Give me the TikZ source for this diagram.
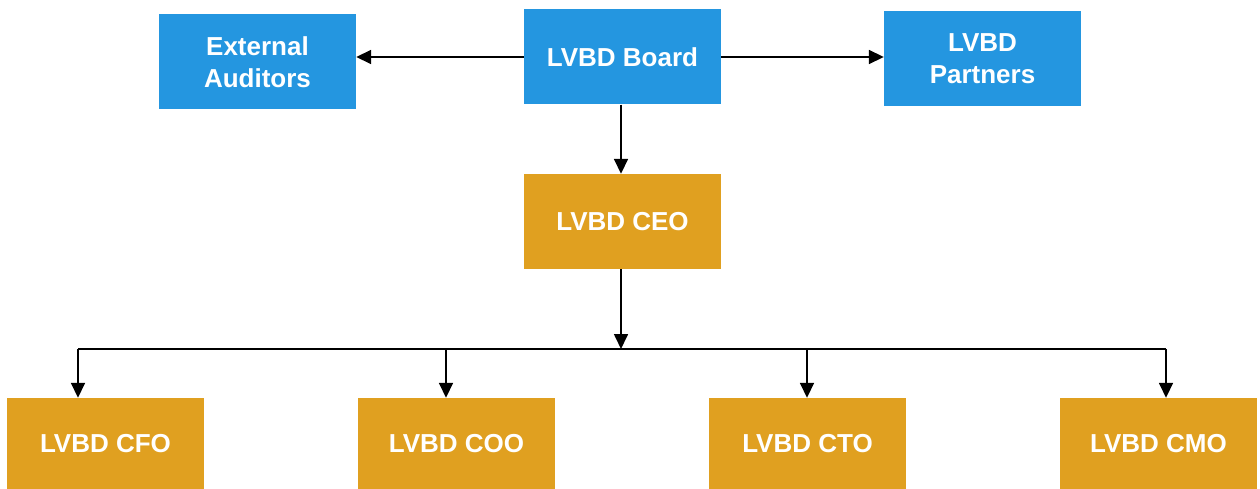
\documentclass[tikz,border=0pt]{standalone}
\usepackage{fontspec}
\setmainfont{Liberation Sans}
\usetikzlibrary{arrows.meta}
\definecolor{boardblue}{RGB}{36,150,224}
\definecolor{execorange}{RGB}{224,160,32}
\begin{document}
\begin{tikzpicture}[x=1pt,y=-1pt]
\tikzstyle{every node}+=[inner sep=0pt,text=white,align=center,font=\bfseries\fontsize{26}{32}\selectfont]
\tikzstyle{bluebox}=[fill=boardblue,minimum width=197pt,minimum height=95pt]
\tikzstyle{orangebox}=[fill=execorange,minimum width=197pt,minimum height=95pt]
\tikzstyle{lowbox}=[fill=execorange,minimum width=197pt,minimum height=91pt]
\tikzstyle{link}=[line width=1.7pt,-{Triangle[length=15pt,width=14pt]}]
\useasboundingbox (0,0) rectangle (1260,489);
\node[bluebox] (ext) at (257.5,62) {External\\Auditors};
\node[bluebox] (board) at (622.5,57) {LVBD Board};
\node[bluebox] (partners) at (982.5,58.5) {LVBD\\Partners};
\node[orangebox] (ceo) at (622.5,221.5) {LVBD CEO};
\node[lowbox] (cfo) at (105.5,443.5) {LVBD CFO};
\node[lowbox] (coo) at (456.5,443.5) {LVBD COO};
\node[lowbox] (cto) at (807.5,443.5) {LVBD CTO};
\node[lowbox] (cmo) at (1158.5,443.5) {LVBD CMO};
\coordinate (bus) at (621,349);
\coordinate (b1) at (78,349);
\coordinate (b2) at (446,349);
\coordinate (b3) at (807,349);
\coordinate (b4) at (1166,349);

\draw [link] (board.west) -- (board.west -| ext.east);
\draw [link] (board.east) -- (board.east -| partners.west);
\draw [link] (board.south -| bus) -- (ceo.north -| bus);
\draw [link] (ceo.south -| bus) -- (bus);

\draw [line width=1.7pt] (b1) -- (b4);
\draw [link] (b1) -- (b1 |- cfo.north);
\draw [link] (b2) -- (b2 |- coo.north);
\draw [link] (b3) -- (b3 |- cto.north);
\draw [link] (b4) -- (b4 |- cmo.north);
\end{tikzpicture}
\end{document}
